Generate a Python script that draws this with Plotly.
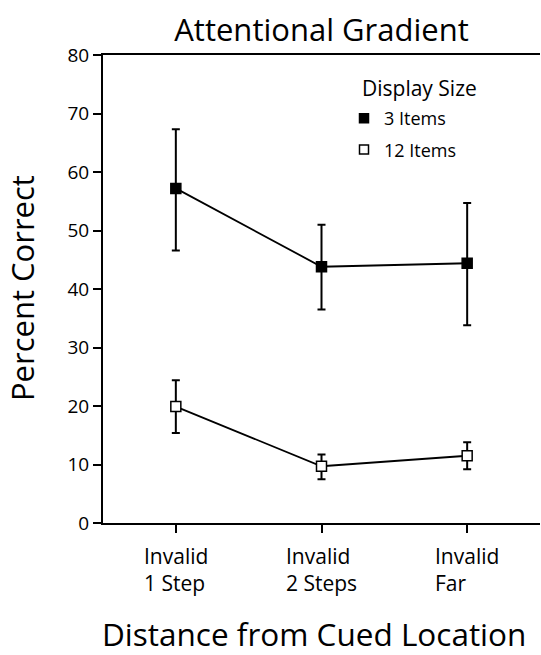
import plotly.graph_objects as go

categories = ["Invalid<br>1 Step", "Invalid<br>2 Steps", "Invalid<br>Far"]
series_names = ["3 Items", "12 Items"]
mean_3 = [57.2, 43.8, 44.4]
upper_3 = [67.3, 51.0, 54.7]
lower_3 = [46.6, 36.5, 33.8]
mean_12 = [19.9, 9.7, 11.5]
upper_12 = [24.4, 11.7, 13.8]
lower_12 = [15.4, 7.5, 9.2]
y_ticks = [0, 10, 20, 30, 40, 50, 60, 70, 80]

FONT = "Open Sans"
xs = list(range(len(categories)))

fig = go.Figure()

def add_series(name, mean, up, lo, fill, group):
    fig.add_trace(go.Scatter(
        x=xs, y=mean, mode="lines+markers", name=name, showlegend=False,
        line=dict(color="black", width=1.8),
        marker=dict(symbol="square", size=10, color=fill,
                    line=dict(color="black", width=1.5)),
        error_y=dict(type="data", symmetric=False,
                     array=[u - m for u, m in zip(up, mean)],
                     arrayminus=[m - l for m, l in zip(mean, lo)],
                     color="black", thickness=2, width=4),
    ))
    # legend-only entry (marker only)
    fig.add_trace(go.Scatter(
        x=[None], y=[None], mode="markers", name=name, legendgroup=group,
        marker=dict(symbol="square", size=9, color=fill,
                    line=dict(color="black", width=1.5)),
    ))

add_series(series_names[0], mean_3, upper_3, lower_3, "black", "g1")
add_series(series_names[1], mean_12, upper_12, lower_12, "white", "g2")

for i, c in enumerate(categories):
    fig.add_annotation(x=i, xref="x", y=-0.1004, yref="paper", text=c,
                       showarrow=False, xanchor="center", yanchor="middle",
                       align="left", font=dict(family=FONT, size=21, color="black"))

fig.add_annotation(x=0.483, xref="paper", y=-0.237, yref="paper",
                   text="Distance from Cued Location", showarrow=False,
                   xanchor="center", yanchor="middle",
                   font=dict(family=FONT, size=31.5, color="black"))
fig.add_annotation(x=-0.1854, xref="paper", y=0.502, yref="paper",
                   text="Percent Correct", textangle=-90, showarrow=False,
                   xanchor="center", yanchor="middle",
                   font=dict(family=FONT, size=31, color="black"))
fig.add_annotation(x=0.588, xref="paper", y=0.9295, yref="paper",
                   text="Display Size", showarrow=False,
                   xanchor="left", yanchor="middle",
                   font=dict(family=FONT, size=21, color="black"))

fig.update_layout(
    width=541, height=655,
    margin=dict(l=103, r=1, t=55, b=132),
    paper_bgcolor="white", plot_bgcolor="white",
    title=dict(text="Attentional Gradient", x=0.5, xref="paper", xanchor="center",
               y=0.954, yanchor="middle",
               font=dict(family=FONT, size=31, color="black")),
    font=dict(family=FONT, color="black"),
    legend=dict(x=0.5515, y=0.904, xanchor="left", yanchor="top",
                traceorder="grouped", tracegroupgap=5,
                font=dict(family=FONT, size=18), bgcolor="rgba(0,0,0,0)",
                itemwidth=30),
    xaxis=dict(range=[-0.5, 2.5], tickvals=xs, showticklabels=False,
               ticks="outside", ticklen=8, tickwidth=2, tickcolor="black",
               showline=True, linecolor="black", linewidth=2, mirror=True,
               showgrid=False, zeroline=False),
    yaxis=dict(range=[0, 80], tickvals=y_ticks, ticks="outside", ticklen=8,
               tickwidth=2, tickcolor="black", showline=True, linecolor="black",
               linewidth=2, showgrid=False, zeroline=False,
               tickfont=dict(family=FONT, size=19, color="black")),
)

fig.write_html("out.html", config={"displayModeBar": False},
               post_script="document.body.style.margin='0';document.body.style.overflow='hidden';")
